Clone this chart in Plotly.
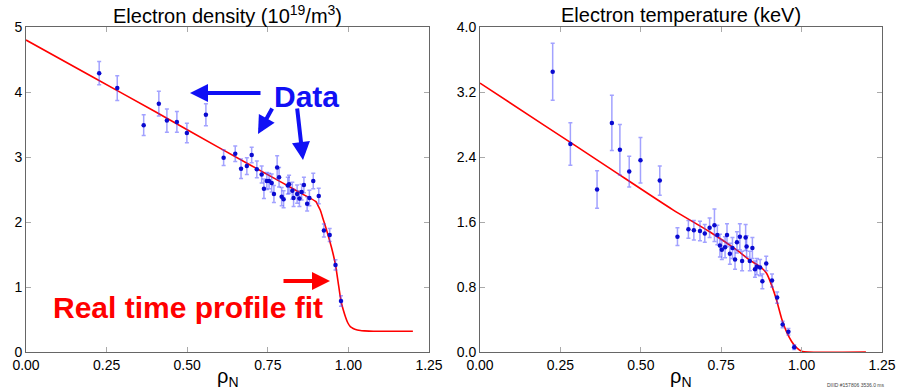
import plotly.graph_objects as go

# ---------------- data ----------------
ne_rho = [0.227, 0.283, 0.365, 0.412, 0.437, 0.468, 0.499, 0.558, 0.613, 0.649,
          0.667, 0.685, 0.700, 0.716, 0.731, 0.738, 0.747, 0.754, 0.762, 0.769,
          0.779, 0.785, 0.793, 0.799, 0.812, 0.816, 0.826, 0.830, 0.841, 0.848,
          0.855, 0.862, 0.872, 0.879, 0.891, 0.908, 0.924, 0.942, 0.960, 0.977]
ne_val = [4.29, 4.06, 3.49, 3.82, 3.56, 3.54, 3.37, 3.65, 2.99, 3.05,
          2.82, 2.86, 3.03, 2.81, 2.73, 2.51, 2.63, 2.63, 2.60, 2.43,
          2.84, 2.69, 2.39, 2.35, 2.56, 2.58, 2.48, 2.37, 2.43, 2.36,
          2.46, 2.57, 2.28, 2.37, 2.63, 2.40, 1.87, 1.80, 1.34, 0.785]
ne_err = [0.18, 0.19, 0.16, 0.19, 0.18, 0.16, 0.15, 0.17, 0.12, 0.12,
          0.15, 0.13, 0.12, 0.13, 0.13, 0.15, 0.13, 0.12, 0.14, 0.13,
          0.18, 0.15, 0.14, 0.13, 0.13, 0.14, 0.13, 0.13, 0.14, 0.12,
          0.12, 0.12, 0.11, 0.12, 0.12, 0.12, 0.10, 0.10, 0.08, 0.08]

ne_fit_rho = [0.0, 0.2, 0.4, 0.6, 0.8, 0.85, 0.88, 0.90, 0.905, 0.913, 0.92, 0.929,
              0.935, 0.947, 0.953, 0.960, 0.968, 0.977, 0.984, 0.991, 0.998, 1.006,
              1.012, 1.02, 1.037, 1.05, 1.078, 1.2]
ne_fit_val = [4.80, 4.25, 3.70, 3.14, 2.59, 2.45, 2.37, 2.31, 2.26, 2.18, 2.07, 1.93,
              1.83, 1.62, 1.50, 1.34, 1.08, 0.785, 0.65, 0.54, 0.45, 0.39,
              0.37, 0.35, 0.33, 0.325, 0.32, 0.32]

te_rho = [0.226, 0.281, 0.364, 0.410, 0.435, 0.464, 0.499, 0.559, 0.614, 0.648,
          0.665, 0.684, 0.699, 0.714, 0.729, 0.738, 0.746, 0.752, 0.762, 0.768,
          0.777, 0.785, 0.793, 0.799, 0.808, 0.815, 0.826, 0.829, 0.839, 0.847,
          0.855, 0.861, 0.871, 0.878, 0.890, 0.908, 0.924, 0.941, 0.959, 0.977]
te_val = [3.45, 2.56, 2.00, 2.82, 2.49, 2.22, 2.36, 2.11, 1.42, 1.51,
          1.50, 1.49, 1.46, 1.53, 1.56, 1.44, 1.31, 1.26, 1.29, 1.44,
          1.21, 1.28, 1.14, 1.35, 1.42, 1.12, 1.41, 1.30, 1.12, 1.28,
          1.02, 1.05, 1.04, 0.87, 1.09, 0.88, 0.67, 0.34, 0.25, 0.06]
te_err = [0.35, 0.26, 0.23, 0.34, 0.31, 0.19, 0.28, 0.18, 0.11, 0.11,
          0.12, 0.12, 0.11, 0.12, 0.20, 0.12, 0.14, 0.12, 0.13, 0.14,
          0.13, 0.13, 0.12, 0.13, 0.16, 0.12, 0.16, 0.13, 0.12, 0.13,
          0.10, 0.10, 0.10, 0.09, 0.09, 0.08, 0.07, 0.04, 0.04, 0.03]

te_fit_rho = [0.0, 0.2, 0.4, 0.6, 0.714, 0.8, 0.839, 0.871, 0.891, 0.907, 0.922,
              0.938, 0.953, 0.969, 0.985, 1.0, 1.02, 1.2]
te_fit_val = [3.31, 2.79, 2.27, 1.75, 1.48, 1.25, 1.13, 1.05, 0.97, 0.82, 0.64,
              0.41, 0.25, 0.13, 0.05, 0.01, 0.0, 0.0]

x_ticks = [0.0, 0.25, 0.5, 0.75, 1.0, 1.25]
ne_ticks = [0, 1, 2, 3, 4, 5]
te_ticks = [0.0, 0.8, 1.6, 2.4, 3.2, 4.0]

titles = ["Electron density (10<sup>19</sup>/m<sup>3</sup>)", "Electron temperature (keV)"]
x_label = "ρ<sub>N</sub>"
data_label = "Data"
fit_label = "Real time profile fit"
stamp = "DIIID #157806 3536.0 ms"

# ---------------- figure ----------------
W, H = 900, 390
FONT = "Liberation Sans, Arial, Helvetica, sans-serif"
MK = "#0a0ad0"
EB = "rgba(70,70,255,0.5)"
FIT = "#ff0000"

fig = go.Figure()

fig.add_trace(go.Scatter(x=ne_fit_rho, y=ne_fit_val, mode="lines",
                         line=dict(color=FIT, width=1.6, shape="spline", smoothing=0.6),
                         xaxis="x", yaxis="y", showlegend=False))
fig.add_trace(go.Scatter(x=ne_rho, y=ne_val, mode="markers",
                         marker=dict(color=MK, size=4.5),
                         error_y=dict(type="data", array=ne_err, color=EB, thickness=1.5, width=2),
                         xaxis="x", yaxis="y", showlegend=False))
fig.add_trace(go.Scatter(x=te_fit_rho, y=te_fit_val, mode="lines",
                         line=dict(color=FIT, width=1.6, shape="spline", smoothing=0.6),
                         xaxis="x2", yaxis="y2", showlegend=False))
fig.add_trace(go.Scatter(x=te_rho, y=te_val, mode="markers",
                         marker=dict(color=MK, size=4.5),
                         error_y=dict(type="data", array=te_err, color=EB, thickness=1.5, width=2),
                         xaxis="x2", yaxis="y2", showlegend=False))

ydom = [1 - 352 / H, 1 - 27 / H]
axis_common = dict(showgrid=False, zeroline=False, showline=True, linecolor="#666",
                   linewidth=1, mirror="ticks", ticks="inside", ticklen=5,
                   tickcolor="#aaa", automargin=False,
                   tickfont=dict(family=FONT, size=14, color="black"))

fig.update_layout(
    width=W, height=H, margin=dict(l=0, r=0, t=0, b=0, autoexpand=False),
    paper_bgcolor="white", plot_bgcolor="white",
    font=dict(family=FONT, color="black"),
    xaxis=dict(domain=[26 / W, 429 / W], range=[0, 1.25], tickvals=x_ticks,
               tickformat=".2f", anchor="y", **axis_common),
    yaxis=dict(domain=ydom, range=[0, 5], tickvals=ne_ticks, anchor="x", **axis_common),
    xaxis2=dict(domain=[480 / W, 882 / W], range=[0, 1.25], tickvals=x_ticks,
                tickformat=".2f", anchor="y2", **axis_common),
    yaxis2=dict(domain=ydom, range=[0, 4], tickvals=te_ticks, tickformat=".1f",
                anchor="x2", **axis_common),
)


def px(x):
    return x / W


def py(y):
    return 1 - y / H


def label(text, x, y, size, color="black"):
    return dict(text=text, x=px(x), y=py(y), xref="paper", yref="paper",
                xanchor="center", yanchor="middle", showarrow=False,
                font=dict(size=size, family=FONT, color=color))


ann = []
# panel titles
ann.append(label(titles[0], 227.5, 15, 20))
ann.append(label(titles[1], 681, 15, 20))
# x axis titles
ann.append(label(x_label, 227.5, 377, 20))
ann.append(label(x_label, 681, 377, 20))
# "Data" label and arrows
ann.append(label("<b>%s</b>" % data_label, 306, 96, 30, "#1010f5"))
for tip, off in [((190, 93), (72, 0)), ((258, 134), (15, -27)), ((303, 160), (-6, -53))]:
    ann.append(dict(text="", x=px(tip[0]), y=py(tip[1]), xref="paper", yref="paper",
                    showarrow=True, ax=off[0], ay=off[1], arrowhead=2, arrowsize=0.9,
                    arrowwidth=4, arrowcolor="#1010f5"))
# fit label and arrow
ann.append(label("<b>%s</b>" % fit_label, 188, 307, 30, "#ff0000"))
ann.append(dict(text="", x=px(330), y=py(281), xref="paper", yref="paper",
                showarrow=True, ax=-48, ay=0, arrowhead=2, arrowsize=0.9,
                arrowwidth=4, arrowcolor="#ff0000"))
# stamp
ann.append(label(stamp, 855, 385, 5, "#444"))

fig.update_layout(annotations=ann)

fig.write_html("out.html", config={"displayModeBar": False},
               post_script="document.body.style.margin='0px';document.body.style.overflow='hidden';")
